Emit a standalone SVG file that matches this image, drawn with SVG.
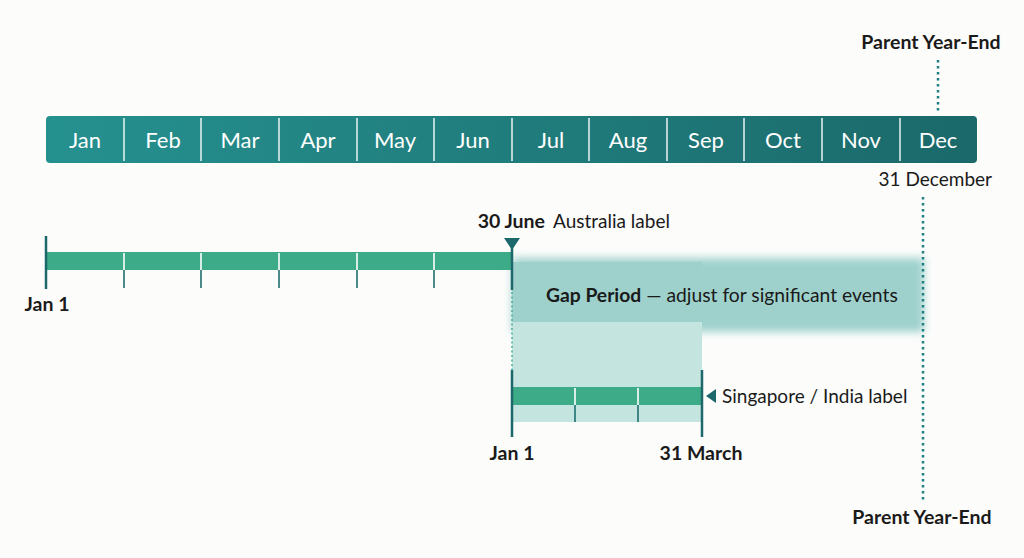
<svg xmlns="http://www.w3.org/2000/svg" width="1024" height="558" viewBox="0 0 1024 558">
<defs>
<linearGradient id="mg" x1="0" y1="0" x2="1" y2="0">
<stop offset="0" stop-color="#25918f"/>
<stop offset="1" stop-color="#1b696a"/>
</linearGradient>
<filter id="soft" x="-5%" y="-30%" width="110%" height="160%"><feGaussianBlur stdDeviation="4"/></filter>
<style>
text{font-family:Lato,"Noto Sans","Liberation Sans",sans-serif;fill:#1a1a1a}
.m{fill:#ffffff;font-size:22px;text-anchor:middle}
.b{font-weight:bold;font-size:19.5px}
.r{font-size:19px}
.div{stroke:#ffffff;stroke-width:1.6;opacity:0.85}
.bar{fill:#3dab87}
.wt{stroke:#ffffff;stroke-width:1.6}
.dt{stroke:#1d6e70;stroke-width:1.6}
.end{stroke:#1c686a;stroke-width:2.5}
.dot{stroke:#1f7e80;stroke-width:2.5;stroke-dasharray:2.5 3.5;fill:none}
</style>
</defs>
<rect width="1024" height="558" fill="#fcfcfb"/>

<g id="gap-period">
<rect x="512" y="258" width="412" height="74" fill="#9ed1cc" filter="url(#soft)"/>
<rect x="512" y="318" width="190" height="104" fill="#c4e4df"/>
<rect x="512" y="262" width="190" height="60" fill="#9ed1cc"/>
<text x="546" y="302" class="b" style="font-size:19.3px">Gap Period<tspan font-weight="normal"> — adjust for significant events</tspan></text>
</g>

<g id="connectors">
<line x1="938" y1="60" x2="938" y2="114" class="dot"/>
<line x1="923" y1="197" x2="923" y2="500" class="dot"/>
<line x1="512" y1="292" x2="512" y2="370" stroke="#4fb5a2" stroke-width="1.6" stroke-dasharray="2 2.5"/>
</g>

<g id="month-bar">
<rect x="46" y="116" width="931" height="47" rx="4" fill="url(#mg)"/>
<g class="div">
<line x1="124" y1="118" x2="124" y2="161"/>
<line x1="201" y1="118" x2="201" y2="161"/>
<line x1="279" y1="118" x2="279" y2="161"/>
<line x1="357" y1="118" x2="357" y2="161"/>
<line x1="434" y1="118" x2="434" y2="161"/>
<line x1="512" y1="118" x2="512" y2="161"/>
<line x1="589" y1="118" x2="589" y2="161"/>
<line x1="667" y1="118" x2="667" y2="161"/>
<line x1="744" y1="118" x2="744" y2="161"/>
<line x1="822" y1="118" x2="822" y2="161"/>
<line x1="900" y1="118" x2="900" y2="161"/>
</g>
<text x="85" y="148" class="m">Jan</text>
<text x="163" y="148" class="m">Feb</text>
<text x="240" y="148" class="m">Mar</text>
<text x="318" y="148" class="m">Apr</text>
<text x="395" y="148" class="m">May</text>
<text x="473" y="148" class="m">Jun</text>
<text x="551" y="148" class="m">Jul</text>
<text x="628" y="148" class="m">Aug</text>
<text x="706" y="148" class="m">Sep</text>
<text x="783" y="148" class="m">Oct</text>
<text x="861" y="148" class="m">Nov</text>
<text x="938" y="148" class="m">Dec</text>
</g>

<g id="parent-year-end-top">
<text x="931" y="49" class="b" text-anchor="middle">Parent Year-End</text>
</g>
<g id="dec-31">
<text x="992" y="186" class="r" text-anchor="end">31 December</text>
</g>

<g id="australia-timeline">
<rect x="46" y="252" width="466" height="18" class="bar"/>
<line x1="46" y1="236" x2="46" y2="289" class="end"/>
<g>
<line x1="124" y1="253" x2="124" y2="270" class="wt"/>
<line x1="201" y1="253" x2="201" y2="270" class="wt"/>
<line x1="279" y1="253" x2="279" y2="270" class="wt"/>
<line x1="357" y1="253" x2="357" y2="270" class="wt"/>
<line x1="434" y1="253" x2="434" y2="270" class="wt"/>
<line x1="124" y1="270" x2="124" y2="288" class="dt"/>
<line x1="201" y1="270" x2="201" y2="288" class="dt"/>
<line x1="279" y1="270" x2="279" y2="288" class="dt"/>
<line x1="357" y1="270" x2="357" y2="288" class="dt"/>
<line x1="434" y1="270" x2="434" y2="288" class="dt"/>
</g>
<line x1="512" y1="246" x2="512" y2="290" class="end"/>
<polygon points="504,238 520,238 512,250" fill="#1c686a"/>
<text x="47" y="311" class="b" text-anchor="middle">Jan 1</text>
<text x="545" y="228" class="b" text-anchor="end">30 June</text>
<text x="553" y="228" class="r">Australia label</text>
</g>

<g id="singapore-timeline">
<rect x="512" y="387" width="190" height="18" class="bar"/>
<line x1="575" y1="388" x2="575" y2="405" class="wt"/>
<line x1="638" y1="388" x2="638" y2="405" class="wt"/>
<line x1="575" y1="405" x2="575" y2="422" class="dt"/>
<line x1="638" y1="405" x2="638" y2="422" class="dt"/>
<line x1="512" y1="370" x2="512" y2="437" class="end"/>
<line x1="702" y1="370" x2="702" y2="437" class="end"/>
<polygon points="706,396 716,389 716,403" fill="#1c686a"/>
<text x="722" y="403" class="r">Singapore / India label</text>
<text x="512" y="460" class="b" text-anchor="middle">Jan 1</text>
<text x="701" y="460" class="b" text-anchor="middle">31 March</text>
</g>

<g id="parent-year-end-bottom">
<text x="922" y="524" class="b" text-anchor="middle">Parent Year-End</text>
</g>
</svg>
